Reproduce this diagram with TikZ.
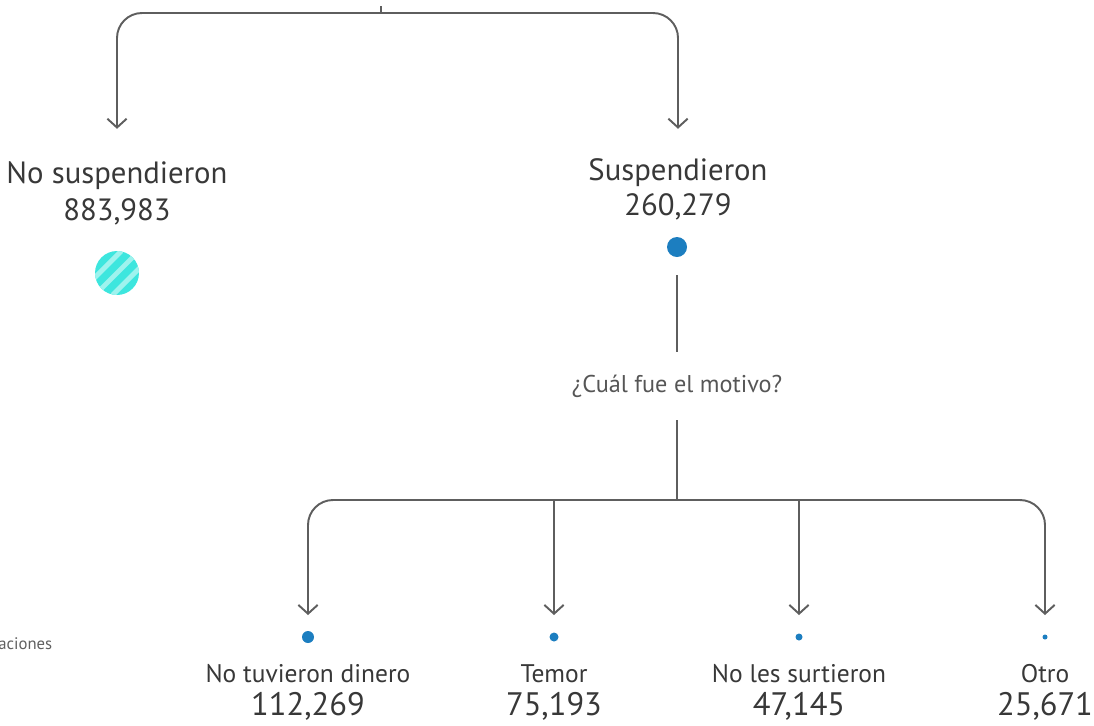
\documentclass[tikz,border=0pt]{standalone}
\usepackage{fontspec}
\setmainfont{PT Sans}
\usetikzlibrary{arrows.meta}
\definecolor{inkgray}{HTML}{383838}
\definecolor{linegray}{HTML}{5E5E5E}
\definecolor{dotblue}{HTML}{1C7EC0}
\definecolor{turq}{HTML}{3DE6DE}
\definecolor{turqlight}{HTML}{9EF3EE}
\tikzset{
  link/.style={draw=linegray, line width=1.1pt},
  conn/.style={link, -{Straight Barb[length=5pt,width=11pt]}},
  toplabel/.style={text=inkgray, inner sep=0, anchor=base,
    font=\fontsize{17.5}{21}\selectfont},
  reason/.style={text=inkgray, inner sep=0, anchor=base,
    font=\fontsize{14.5}{17}\selectfont},
  amount/.style={text=inkgray, inner sep=0, anchor=base,
    font=\fontsize{18.5}{22}\selectfont},
  ask/.style={text=inkgray!85, inner sep=0, font=\fontsize{13.8}{16}\selectfont},
  side/.style={text=inkgray!80, inner sep=0, anchor=base west,
    font=\fontsize{9.5}{11}\selectfont},
  dot/.style={circle, fill=dotblue, inner sep=0},
  hatch/.style={
    circle, fill=turq, inner sep=0,
    path picture={
      \foreach \k in {-20,-10,...,20}
        \draw[turqlight, line width=2.8pt]
          ([xshift=\k pt]path picture bounding box.south west) --
          ([xshift=\k pt]path picture bounding box.north east);
    }
  }
}

\begin{document}
\begin{tikzpicture}[x=0.02cm, y=-0.02cm]
  \useasboundingbox (0,0) rectangle (1094,725);

%%%top split
  \coordinate (stem) at (381,6);
  \coordinate (top) at (381,13);

  \node[toplabel] (nosus) at (117,183) {No suspendieron};
  \node[toplabel] (nosusval) at (117,220) {883,983};
  \node[hatch, minimum size=0.88cm] (nodot) at (117,273) {};

  \node[toplabel] (sus) at (678,180) {Suspendieron};
  \node[toplabel] (susval) at (678,215) {260,279};
  \node[dot, minimum size=0.4cm] (sdot) at (677,247) {};

  \draw[link] (stem) -- (top);
  \draw[conn, rounded corners=0.5cm, shorten >=0.64cm] (top) -| (nosus.north);
  \draw[conn, rounded corners=0.5cm, shorten >=0.58cm] (top) -| (sus.north);

%%%question
  \node[ask, minimum height=1.36cm] (ask) at (677,386) {¿Cuál fue el motivo?};
  \draw[link, shorten <=0.36cm] (sdot) -- (ask);
  \coordinate (split) at (677,500);
  \draw[link] (ask) -- (split);

%%%reasons
  \foreach \x/\d/\name/\val [count=\i] in {
      308/12/No tuvieron dinero/{112,269},
      554/9/Temor/{75,193},
      799/7/No les surtieron/{47,145},
      1045/5/Otro/{25,671}}
  {
    \node[dot, minimum size=\d*0.2mm] (d\i) at (\x,637) {};
    \node[reason] (r\i) at (\x,682) {\name};
    \node[amount] (v\i) at (\x,715) {\val};
  }

  \draw[conn, rounded corners=0.5cm, shorten >=0.44cm] (split) -| (d1.center);
  \draw[conn, shorten >=0.44cm] (split -| d2) -- (d2.center);
  \draw[conn, shorten >=0.44cm] (split -| d3) -- (d3.center);
  \draw[conn, rounded corners=0.5cm, shorten >=0.44cm] (split) -| (d4.center);

  % cut-off note at the left edge
  \node[side] (note) at (-2,649) {aciones};

\end{tikzpicture}
\end{document}
